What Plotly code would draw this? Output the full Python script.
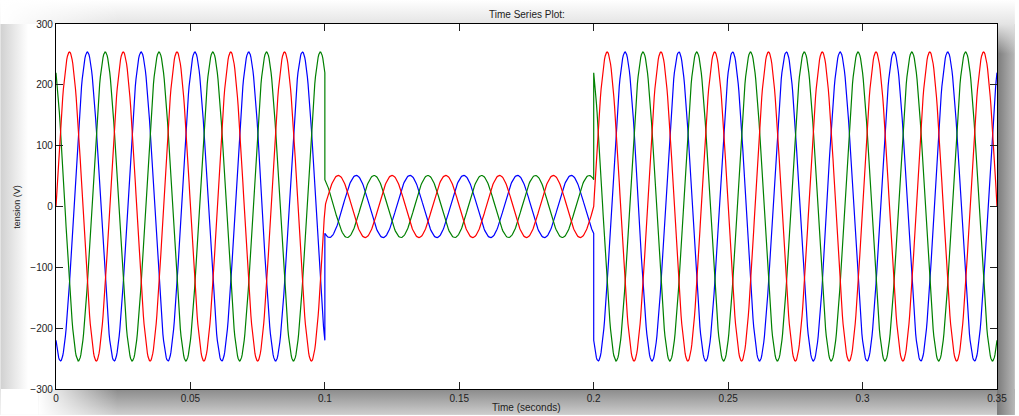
import base64
import numpy as np
import plotly.graph_objects as go

# Three-phase voltage with a sag between 0.1 s and 0.2 s
segment_edges_s = [0.0, 0.1, 0.2, 0.35]   # segment boundaries (s)
segment_peak_v = [254.0, 51.0, 254.0]     # peak voltage in each segment (V)
line_freq_hz = 50.0
phase_names = ["phase b", "phase c", "phase a"]
phase_shift_deg = [-120.0, 120.0, 0.0]
phase_colors = ["#0000ff", "#008000", "#ff0000"]
sample_step_s = 2.5e-4

x_ticks = [0, 0.05, 0.1, 0.15, 0.2, 0.25, 0.3, 0.35]
x_tick_text = ["0", "0.05", "0.1", "0.15", "0.2", "0.25", "0.3", "0.35"]
y_ticks = [-300, -200, -100, 0, 100, 200, 300]


def phase_samples(shift_deg):
    ts, vs = [], []
    for k, peak in enumerate(segment_peak_v):
        t0, t1 = segment_edges_s[k], segment_edges_s[k + 1]
        n = int(round((t1 - t0) / sample_step_s)) + 1
        t = np.linspace(t0, t1, n)
        v = peak * np.sin(2 * np.pi * line_freq_hz * t + np.deg2rad(shift_deg))
        ts.append(t)
        vs.append(v)
    return np.concatenate(ts), np.concatenate(vs)


fig = go.Figure()
for name, shift, color in zip(phase_names, phase_shift_deg, phase_colors):
    t, v = phase_samples(shift)
    fig.add_trace(go.Scatter(x=t, y=v, mode="lines", name=name,
                             line=dict(color=color, width=1.2),
                             showlegend=False, hoverinfo="skip"))

W, H = 1019, 416
ML, MR, MT, MB = 56, 18, 24, 26
PW, PH = W - ML - MR, H - MT - MB

# soft drop shadow around the axes box
svg = f"""<svg xmlns='http://www.w3.org/2000/svg' width='{W}' height='{H}' viewBox='0 0 {W} {H}' preserveAspectRatio='none'>
<defs>
<linearGradient id='gt' x1='0' y1='0' x2='0' y2='1'><stop offset='0' stop-color='#ffffff'/><stop offset='1' stop-color='#e4e4e4'/></linearGradient>
<linearGradient id='gl' x1='0' y1='0' x2='1' y2='0'><stop offset='0' stop-color='#d0d0d0'/><stop offset='0.5' stop-color='#ffffff'/><stop offset='1' stop-color='#ffffff'/></linearGradient>
<linearGradient id='gb' x1='0' y1='0' x2='0' y2='1'><stop offset='0' stop-color='#8a8a8a'/><stop offset='1' stop-color='#cecece'/></linearGradient>
<linearGradient id='gr' x1='0' y1='0' x2='1' y2='0'><stop offset='0' stop-color='#7a7a7a'/><stop offset='1' stop-color='#b8b8b8'/></linearGradient>
<linearGradient id='fl' x1='0' y1='0' x2='1' y2='0'><stop offset='0' stop-color='#ffffff' stop-opacity='1'/><stop offset='1' stop-color='#ffffff' stop-opacity='0'/></linearGradient>
<linearGradient id='ft' x1='0' y1='0' x2='0' y2='1'><stop offset='0' stop-color='#e4e4e4' stop-opacity='1'/><stop offset='1' stop-color='#e4e4e4' stop-opacity='0'/></linearGradient>
</defs>
<rect x='0' y='0' width='{W}' height='{H}' fill='#ffffff'/>
<rect x='0' y='0' width='{W}' height='{MT}' fill='url(#gt)'/>
<rect x='0' y='0' width='120' height='{MT}' fill='url(#fl)'/>
<rect x='0' y='{MT}' width='{ML}' height='{PH}' fill='url(#gl)'/>
<rect x='0' y='{MT + PH}' width='{W}' height='{MB}' fill='url(#gb)'/>
<rect x='0' y='{MT + PH}' width='38' height='{MB}' fill='#ffffff'/>
<rect x='38' y='{MT + PH}' width='80' height='{MB}' fill='url(#fl)'/>
<rect x='{ML + PW}' y='{MT}' width='{MR}' height='{H - MT}' fill='url(#gr)'/>
<rect x='{ML + PW}' y='{MT}' width='{MR}' height='30' fill='url(#ft)'/>
</svg>"""
svg_uri = "data:image/svg+xml;base64," + base64.b64encode(svg.encode()).decode()

fig.add_layout_image(dict(
    source=svg_uri, xref="paper", yref="paper",
    x=-ML / PW, y=1 + MT / PH, sizex=W / PW, sizey=H / PH,
    xanchor="left", yanchor="top", sizing="stretch", layer="below",
))

font_family = "Liberation Sans, Arial, sans-serif"
axis_common = dict(
    showgrid=False, zeroline=False, showline=True, linecolor="black",
    linewidth=1.2, mirror="ticks", ticks="inside", ticklen=7,
    tickcolor="#222", tickwidth=1,
    tickfont=dict(family=font_family, size=10, color="#222"),
)

fig.update_xaxes(range=[0, 0.35], tickvals=x_ticks, ticktext=x_tick_text,
                 **axis_common)
fig.update_yaxes(range=[-300, 300], tickvals=y_ticks, **axis_common)

fig.update_layout(
    width=W, height=H,
    margin=dict(l=ML, r=MR, t=MT, b=MB),
    paper_bgcolor="white", plot_bgcolor="white",
    annotations=[
        dict(text="Time Series Plot:", xref="paper", yref="paper",
             x=0.5, y=1 + 10 / PH, xanchor="center", yanchor="middle",
             showarrow=False, font=dict(family=font_family, size=10, color="#222")),
        dict(text="Time (seconds)", xref="paper", yref="paper",
             x=0.5, y=-19 / PH, xanchor="center", yanchor="middle",
             showarrow=False, font=dict(family=font_family, size=10, color="#222")),
        dict(text="tension (V)", xref="paper", yref="paper",
             x=-40 / PW, y=0.5, xanchor="center", yanchor="middle", textangle=-90,
             showarrow=False, font=dict(family=font_family, size=9, color="#222")),
    ],
)

fig.write_html("out.html")
